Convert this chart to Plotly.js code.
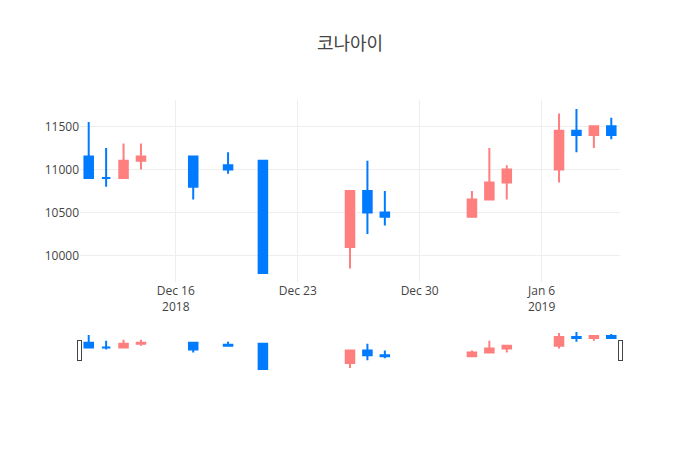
<!DOCTYPE html>
<html>
<head>
<meta charset="utf-8">
<script src="https://cdn.plot.ly/plotly-3.0.1.min.js"></script>
<style>
    body { margin: 0; }
    #konaiChart { width: 700px; height: 450px; }
</style>
</head>
<body>
<div id="konaiChart"></div>
<script>
const tradeDates = [
    "2018-12-11", "2018-12-12", "2018-12-13", "2018-12-14", "2018-12-17", "2018-12-19", "2018-12-21",
    "2018-12-26", "2018-12-27", "2018-12-28",
    "2019-01-02", "2019-01-03", "2019-01-04",
    "2019-01-07", "2019-01-08", "2019-01-09", "2019-01-10"
];
const openPrices = [11150, 10900, 10900, 11100, 11150, 11050, 11100, 10100, 10750, 10500, 10450, 10650, 10850, 11000, 11450, 11400, 11500];
const highPrices = [11550, 11250, 11300, 11300, 11150, 11200, 11100, 10750, 11100, 10750, 10750, 11250, 11050, 11650, 11700, 11500, 11600];
const lowPrices = [10900, 10800, 10900, 11000, 10650, 10950, 9800, 9850, 10250, 10350, 10450, 10650, 10650, 10850, 11200, 11250, 11350];
const closePrices = [10900, 10900, 11100, 11150, 10800, 11000, 9800, 10750, 10500, 10450, 10650, 10850, 11000, 11450, 11400, 11500, 11400];

const RISE_COLOUR = "#ff7f7f";
const FALL_COLOUR = "#007bff";

const data = [{
    type: "candlestick",
    x: tradeDates,
    open: openPrices,
    high: highPrices,
    low: lowPrices,
    close: closePrices,
    increasing: { line: { color: RISE_COLOUR }, fillcolor: RISE_COLOUR },
    decreasing: { line: { color: FALL_COLOUR }, fillcolor: FALL_COLOUR }
}];

const layout = {
    width: 700,
    height: 450,
    title: { text: "코나아이", font: { size: 18 } },
    font: { family: '"Open Sans", "Noto Sans CJK KR", sans-serif' },
    showlegend: false,
    xaxis: { rangeslider: { visible: true } },
    // full prices on the axis, no "k" suffix
    yaxis: { tickformat: "d" }
};

Plotly.newPlot("konaiChart", data, layout, { displayModeBar: false });
</script>
</body>
</html>
